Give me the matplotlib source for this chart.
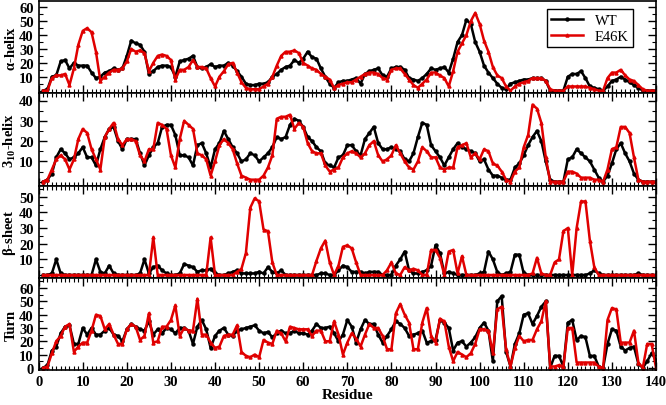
import numpy as np
import matplotlib
matplotlib.use('Agg')
import matplotlib.pyplot as plt
from matplotlib.ticker import MultipleLocator, FixedLocator

residue = np.arange(1, 141)

alpha_wt = [0, 1, 10, 11, 21, 22, 16, 20, 18, 18, 18, 13, 9, 10, 13, 14, 16, 15, 16, 25,
            36, 34, 33, 28, 12, 14, 17, 18, 18, 17, 10, 21, 22, 23, 25, 17, 16, 17, 19, 17,
            18, 18, 20, 18, 14, 10, 5, 4, 4, 5, 5, 6, 10, 12, 15, 17, 18, 22, 20, 23,
            28, 24, 23, 16, 10, 5, 2, 6, 7, 7, 8, 9, 5, 12, 14, 15, 16, 11, 10, 16,
            17, 17, 15, 9, 8, 7, 9, 12, 16, 15, 16, 17, 13, 23, 35, 40, 51, 48, 35, 28,
            18, 13, 9, 5, 2, 1, 5, 6, 7, 8, 8, 9, 9, 9, 7, 0, 0, 0, 0, 10,
            12, 12, 14, 9, 3, 2, 1, 0, 3, 7, 8, 10, 8, 6, 4, 2, 0, 0, 0, 0]
alpha_e46k = [0, 0, 9, 11, 11, 12, 4, 16, 33, 43, 45, 42, 28, 7, 10, 13, 15, 15, 16, 21,
              30, 28, 29, 27, 14, 20, 25, 26, 25, 22, 8, 15, 15, 17, 22, 17, 17, 16, 9, 3,
              10, 14, 19, 20, 13, 6, 2, 1, 1, 1, 3, 5, 10, 18, 25, 28, 28, 29, 27, 20,
              18, 16, 15, 12, 10, 8, 2, 4, 5, 6, 6, 8, 10, 12, 13, 13, 12, 9, 8, 15,
              16, 16, 12, 8, 4, 2, 5, 8, 13, 13, 11, 9, 3, 14, 28, 34, 40, 50, 56, 48,
              36, 28, 17, 11, 9, 3, 0, 3, 5, 6, 7, 9, 9, 9, 7, 1, 0, 0, 0, 3,
              3, 3, 3, 3, 2, 1, 0, 0, 9, 13, 13, 15, 11, 8, 7, 4, 1, 0, 0, 0]

h310_wt = [0, 1, 4, 12, 16, 14, 11, 12, 14, 17, 12, 12, 8, 16, 22, 26, 27, 20, 16, 21,
           21, 21, 14, 8, 13, 17, 19, 27, 28, 28, 23, 13, 13, 12, 8, 18, 19, 14, 7, 16,
           19, 25, 21, 17, 14, 10, 11, 14, 13, 10, 12, 14, 17, 22, 21, 22, 28, 31, 30, 27,
           22, 20, 17, 15, 9, 8, 7, 12, 13, 18, 18, 15, 13, 21, 24, 27, 19, 16, 16, 17,
           16, 15, 11, 10, 14, 22, 29, 28, 18, 15, 12, 8, 12, 16, 19, 17, 16, 15, 14, 10,
           11, 6, 3, 3, 2, 1, 1, 7, 9, 13, 18, 22, 25, 20, 10, 1, 0, 0, 0, 11,
           12, 16, 14, 12, 10, 6, 2, 0, 3, 9, 16, 19, 14, 10, 4, 1, 0, 0, 0, 0]
h310_e46k = [0, 1, 6, 11, 13, 11, 6, 11, 21, 26, 24, 16, 11, 6, 22, 26, 29, 21, 18, 21,
             21, 20, 13, 10, 16, 16, 29, 28, 26, 13, 7, 21, 30, 28, 26, 14, 13, 11, 3, 10,
             18, 21, 19, 16, 9, 3, 2, 1, 1, 1, 3, 7, 13, 31, 32, 32, 33, 26, 29, 27,
             19, 15, 14, 14, 8, 5, 6, 7, 12, 14, 15, 14, 12, 14, 18, 20, 13, 10, 11, 13,
             18, 14, 10, 7, 6, 10, 17, 15, 12, 12, 7, 6, 7, 7, 17, 18, 19, 12, 14, 11,
             16, 15, 9, 8, 5, 1, 0, 5, 7, 17, 23, 38, 36, 29, 12, 0, 0, 0, 0, 5,
             5, 4, 2, 2, 2, 1, 1, 0, 6, 16, 17, 27, 27, 24, 12, 1, 0, 0, 0, 0]

beta_wt = [0, 0, 1, 10, 1, 0, 0, 0, 0, 0, 0, 0, 10, 2, 1, 6, 1, 0, 0, 0,
           0, 0, 1, 10, 1, 5, 6, 3, 1, 0, 0, 1, 7, 6, 5, 2, 3, 3, 4, 1,
           0, 0, 1, 2, 3, 1, 1, 1, 1, 2, 1, 5, 2, 1, 3, 0, 0, 0, 0, 0,
           0, 0, 0, 1, 1, 0, 0, 3, 6, 5, 2, 2, 2, 1, 2, 2, 2, 0, 0, 0,
           6, 10, 15, 3, 1, 1, 2, 3, 6, 19, 14, 1, 2, 1, 0, 0, 0, 0, 0, 1,
           2, 15, 10, 2, 0, 1, 2, 13, 13, 1, 0, 0, 0, 0, 0, 0, 0, 0, 0, 0,
           0, 0, 0, 0, 1, 3, 1, 0, 0, 0, 0, 0, 0, 0, 0, 1, 0, 0, 0, 0]
beta_e46k = [0, 0, 0, 0, 0, 0, 0, 0, 0, 0, 0, 0, 0, 0, 0, 0, 0, 0, 0, 0,
             0, 0, 0, 0, 0, 24, 0, 0, 0, 0, 0, 0, 0, 0, 0, 0, 0, 0, 24, 0,
             0, 0, 0, 0, 2, 4, 14, 43, 49, 47, 29, 28, 8, 0, 0, 0, 0, 0, 0, 0,
             0, 0, 9, 17, 22, 8, 0, 6, 18, 19, 17, 8, 0, 0, 0, 0, 0, 0, 3, 8,
             1, 0, 5, 3, 4, 3, 0, 0, 16, 16, 11, 0, 15, 16, 1, 12, 0, 0, 0, 0,
             0, 0, 0, 0, 0, 0, 0, 0, 0, 0, 0, 1, 11, 1, 0, 0, 8, 10, 28, 30,
             0, 30, 47, 47, 22, 5, 0, 0, 0, 0, 0, 0, 0, 0, 0, 0, 0, 0, 0, 0]

turn_wt = [0, 2, 13, 16, 26, 31, 32, 18, 18, 30, 25, 30, 25, 25, 28, 30, 25, 24, 20, 29,
           33, 31, 29, 28, 35, 25, 29, 26, 30, 29, 26, 30, 30, 28, 18, 31, 36, 29, 15, 24,
           28, 30, 25, 24, 28, 29, 30, 31, 32, 28, 26, 27, 23, 26, 28, 26, 26, 28, 26, 26,
           25, 28, 33, 30, 30, 31, 26, 20, 25, 36, 31, 19, 29, 36, 33, 33, 25, 19, 24, 29,
           35, 33, 30, 24, 25, 26, 28, 19, 20, 21, 36, 34, 30, 13, 19, 20, 16, 19, 23, 30,
           34, 28, 5, 50, 54, 12, 1, 18, 26, 40, 41, 33, 39, 46, 50, 0, 9, 9, 1, 34,
           36, 21, 24, 23, 9, 9, 1, 0, 18, 29, 28, 16, 13, 15, 16, 3, 0, 5, 11, 6]
turn_e46k = [0, 1, 11, 20, 24, 31, 33, 12, 16, 19, 19, 28, 40, 39, 29, 33, 25, 18, 18, 29,
             33, 31, 21, 24, 41, 19, 20, 31, 31, 36, 47, 24, 30, 28, 28, 52, 25, 25, 19, 15,
             16, 24, 25, 25, 32, 12, 9, 8, 10, 8, 21, 19, 18, 28, 26, 20, 31, 30, 29, 29,
             29, 24, 28, 28, 20, 20, 35, 25, 10, 19, 26, 22, 16, 25, 33, 30, 30, 24, 14, 14,
             41, 48, 40, 34, 14, 14, 34, 45, 24, 19, 37, 35, 16, 5, 12, 10, 8, 11, 18, 29,
             29, 28, 11, 44, 46, 14, 1, 15, 24, 20, 21, 21, 29, 35, 50, 1, 1, 2, 1, 30,
             30, 4, 4, 4, 4, 4, 1, 0, 36, 45, 44, 19, 19, 19, 28, 4, 0, 18, 18, 0]

labels = [r'$\alpha$-helix', r'3$_{10}$-helix', r'$\beta$-sheet', 'Turn']
wt_series = [alpha_wt, h310_wt, beta_wt, turn_wt]
mut_series = [alpha_e46k, h310_e46k, beta_e46k, turn_e46k]
ylims = [(-2, 64.5), (-2, 43.5), (-2, 57), (-2, 67.5)]
yticks = [range(10, 61, 10), range(10, 41, 10), range(10, 51, 10), range(0, 61, 10)]

plt.rcParams['font.family'] = 'serif'
plt.rcParams['font.serif'] = ['Liberation Serif']
plt.rcParams['font.weight'] = 'bold'
plt.rcParams['mathtext.fontset'] = 'custom'
plt.rcParams['mathtext.rm'] = 'Liberation Serif:bold'
plt.rcParams['mathtext.it'] = 'Liberation Serif:bold'
plt.rcParams['mathtext.bf'] = 'Liberation Serif:bold'

fig, axes = plt.subplots(4, 1, figsize=(6.66, 4.06), dpi=100, sharex=True)
fig.subplots_adjust(left=0.058, right=0.985, top=0.995, bottom=0.085, hspace=0)

for i, ax in enumerate(axes):
    ax.plot(residue, wt_series[i], '-o', color='black', lw=1.8, ms=2.2, label='WT')
    ax.plot(residue, mut_series[i], '-^', color='#e00000', lw=1.8, ms=2.2, label='E46K')
    ax.set_xlim(0, 140)
    ax.set_ylim(*ylims[i])
    ax.yaxis.set_major_locator(FixedLocator(list(yticks[i])))
    ax.yaxis.set_minor_locator(MultipleLocator(5))
    ax.xaxis.set_major_locator(MultipleLocator(10))
    ax.xaxis.set_minor_locator(MultipleLocator(1))
    ax.tick_params(which='both', direction='in', right=True, top=(i > 0), labelsize=10.5)
    ax.tick_params(which='major', length=6, width=1)
    ax.tick_params(which='minor', length=3, width=0.8)
    ax.set_ylabel(labels[i], fontsize=10.5, fontweight='bold', labelpad=1)
    for s in ax.spines.values():
        s.set_linewidth(1.2)

axes[0].legend(loc='upper right', prop={'size': 10.5, 'weight': 'normal'},
               handlelength=2.2, fancybox=False, edgecolor='black', framealpha=1,
               borderpad=0.3, labelspacing=0.2, bbox_to_anchor=(0.975, 0.99))
axes[3].set_xlabel('Residue', fontsize=11, fontweight='bold', labelpad=0)

fig.align_ylabels(axes)
fig.savefig('out.png', dpi=100)
